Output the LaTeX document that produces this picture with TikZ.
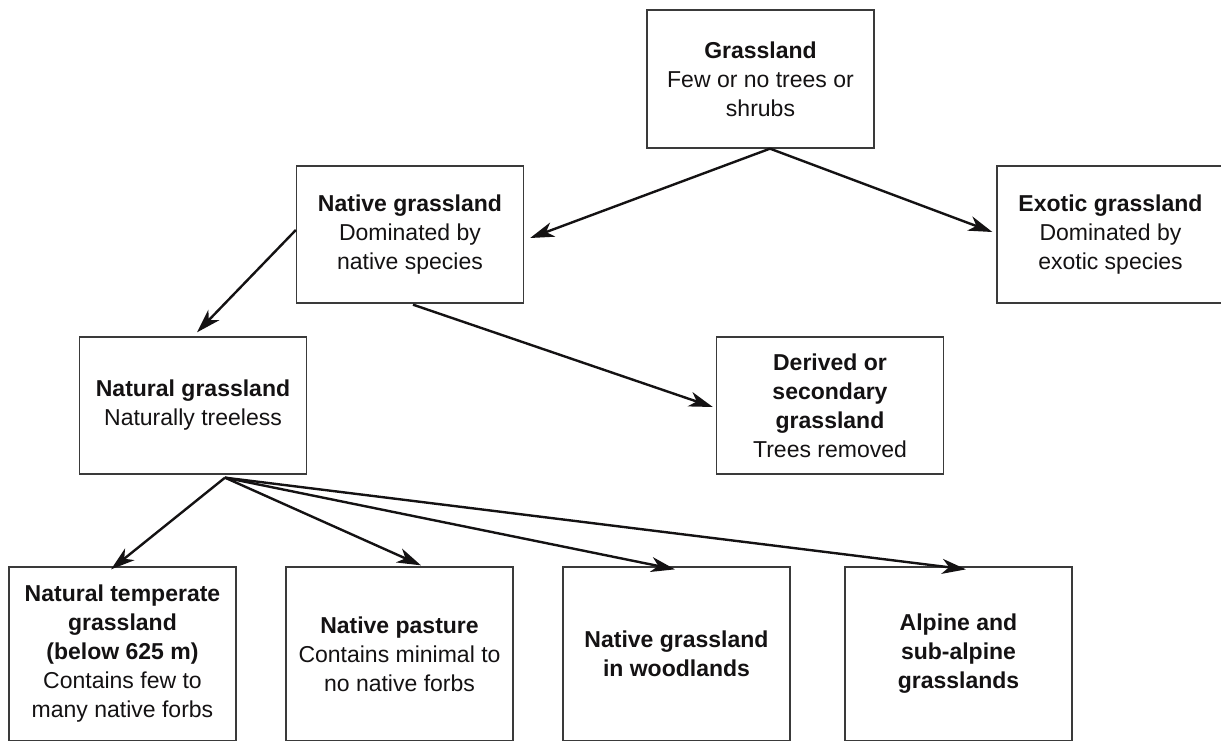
\documentclass[tikz,border=0pt]{standalone}
\usepackage{fontspec}
\setmainfont{Liberation Sans}
\usetikzlibrary{arrows.meta}
\definecolor{ink}{HTML}{141213}
\definecolor{boxline}{HTML}{3A3A3A}
\begin{document}
\begin{tikzpicture}[x=1pt,y=-1pt,
  box/.style={draw=boxline, line width=1.3pt, minimum width=227pt, minimum height=137pt,
    inner sep=0pt, align=center, text=ink, font=\fontsize{23}{29}\selectfont},
  tall/.style={box, minimum height=174pt},
  arr/.style={draw=ink, line width=2.4pt, -{Stealth[length=24pt,width=15pt,inset=7pt]}}]
\useasboundingbox (0,0) rectangle (1221,740);
\fill[white] (0,0) rectangle (1221,740);

\node[box, minimum height=138pt] (grass) at (760.5,79) {\textbf{Grassland}\\Few or no trees or\\shrubs};
\node[box] (native) at (410,234.5) {\textbf{Native grassland}\\Dominated by\\native species};
\node[box] (exotic) at (1110.5,234.5) {\textbf{Exotic grassland}\\Dominated by\\exotic species};
\node[box] (natural) at (193,405.5) {\textbf{Natural grassland}\\Naturally treeless};
\node[box] (derived) at (830,405.5) {\textbf{Derived or}\\\textbf{secondary}\\\textbf{grassland}\\Trees removed};

\node[tall] (b1) at (122.5,654) {\textbf{Natural temperate}\\\textbf{grassland}\\\textbf{(below 625 m)}\\Contains few to\\many native forbs};
\node[tall] (b2) at (399.5,654) {\textbf{Native pasture}\\Contains minimal to\\no native forbs};
\node[tall] (b3) at (676.5,654) {\textbf{Native grassland}\\\textbf{in woodlands}};
\node[tall] (b4) at (958.5,654) {\textbf{Alpine and}\\\textbf{sub-alpine}\\\textbf{grasslands}};

\coordinate (gs) at ([xshift=9.5pt]grass.south);
\coordinate (ns) at ([xshift=32pt,yshift=-3pt]natural.south);

\draw[arr] (gs) -- ([xshift=6pt,yshift=-3.5pt]native.east);
\draw[arr] (gs) -- ([xshift=-4pt,yshift=2.5pt]exotic.west);
\draw[arr] ([yshift=4.5pt]native.west) -- ([xshift=4pt,yshift=4pt]natural.north);
\draw[arr] ([xshift=3pt,yshift=-1pt]native.south) -- ([xshift=-3pt,yshift=-1.5pt]derived.west);

\draw[arr] (ns) -- ([xshift=-11.5pt,yshift=-3pt]b1.north);
\draw[arr] (ns) -- ([xshift=21.5pt,yshift=1pt]b2.north);
\draw[arr] (ns) -- ([xshift=-1.5pt,yshift=-3pt]b3.north);
\draw[arr] (ns) -- ([xshift=7.5pt,yshift=-3pt]b4.north);
\end{tikzpicture}
\end{document}
